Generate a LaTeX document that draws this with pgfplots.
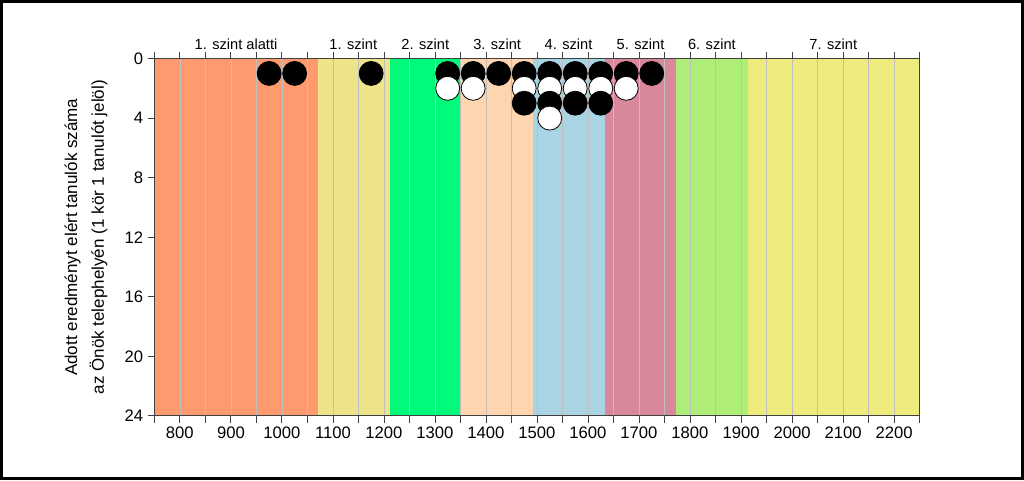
\documentclass[border=0pt]{standalone}
\usepackage{pgfplots}
\pgfplotsset{compat=1.18}
\usepackage{fontspec}
\setmainfont{Liberation Sans}

\definecolor{lvlA}{HTML}{FF9A6E}
\definecolor{lvlB}{HTML}{EDE48A}
\definecolor{lvlC}{HTML}{00FA7A}
\definecolor{lvlD}{HTML}{FFD5B0}
\definecolor{lvlE}{HTML}{A8D4E4}
\definecolor{lvlF}{HTML}{D8889A}
\definecolor{lvlG}{HTML}{AEEE78}
\definecolor{lvlH}{HTML}{EDEB7C}

\begin{document}
\begin{tikzpicture}
\begin{axis}[
    set layers,
    scale only axis,
    width=575pt, height=268.5pt,
    xmin=750, xmax=2250,
    ymin=0, ymax=24,
    y dir=reverse,
    clip=false,
    xtick={750,800,...,2250},
    xticklabels={,800,,900,,1000,,1100,,1200,,1300,,1400,,1500,,1600,,1700,,1800,,1900,,2000,,2100,,2200,},
    ytick={0,4,...,24},
    xtick pos=both, ytick pos=left,
    tick align=outside,
    major tick length=5pt,
    xmajorgrids,
    grid style={color=black!25, line width=0.5pt},
    axis line style={black!75, line width=0.6pt},
    tick style={black!75, line width=0.6pt},
    /pgf/number format/assume math mode=true,
    xticklabel style={font=\fontsize{12.5}{14}\selectfont},
    yticklabel style={font=\fontsize{12.5}{14}\selectfont},
    ylabel={Adott eredményt elért tanulók száma\\[6pt]az Önök telephelyén (1 kör 1 tanulót jelöl)},
    ylabel style={align=center, font=\fontsize{12.8}{14}\selectfont},
    ylabel shift=6pt,
]
% level bands
\addplot[on layer=axis background, draw=none, fill=lvlA] coordinates {(750,0) (1070,0) (1070,24) (750,24)} -- cycle;
\addplot[on layer=axis background, draw=none, fill=lvlB] coordinates {(1070,0) (1211,0) (1211,24) (1070,24)} -- cycle;
\addplot[on layer=axis background, draw=none, fill=lvlC] coordinates {(1211,0) (1352,0) (1352,24) (1211,24)} -- cycle;
\addplot[on layer=axis background, draw=none, fill=lvlD] coordinates {(1352,0) (1492,0) (1492,24) (1352,24)} -- cycle;
\addplot[on layer=axis background, draw=none, fill=lvlE] coordinates {(1492,0) (1633,0) (1633,24) (1492,24)} -- cycle;
\addplot[on layer=axis background, draw=none, fill=lvlF] coordinates {(1633,0) (1773,0) (1773,24) (1633,24)} -- cycle;
\addplot[on layer=axis background, draw=none, fill=lvlG] coordinates {(1773,0) (1913,0) (1913,24) (1773,24)} -- cycle;
\addplot[on layer=axis background, draw=none, fill=lvlH] coordinates {(1913,0) (2250,0) (2250,24) (1913,24)} -- cycle;

% students, one circle each, stacked by row
\addplot[only marks, mark=*, mark size=9pt, mark options={fill=black, draw=black, line width=0.6pt}]
coordinates {(975,1) (1025,1) (1175,1) (1325,1) (1375,1) (1425,1) (1475,1) (1525,1) (1575,1) (1625,1) (1675,1) (1725,1)};
\addplot[only marks, mark=*, mark size=9pt, mark options={fill=white, draw=black, line width=0.6pt}]
coordinates {(1325,2) (1375,2) (1475,2) (1525,2) (1575,2) (1625,2) (1675,2)};
\addplot[only marks, mark=*, mark size=9pt, mark options={fill=black, draw=black, line width=0.6pt}]
coordinates {(1475,3) (1525,3) (1575,3) (1625,3)};
\addplot[only marks, mark=*, mark size=9pt, mark options={fill=white, draw=black, line width=0.6pt}]
coordinates {(1525,4)};

% level names above the frame
\foreach \xx/\txt in {910/1. szint alatti, 1140/1. szint, 1281/2. szint, 1422/3. szint,
    1562/4. szint, 1703/5. szint, 1843/6. szint, 2081/7. szint}
  {\edef\tmp{\noexpand\node[anchor=base, yshift=6.5pt, font=\noexpand\fontsize{11}{13}\noexpand\selectfont] at (axis cs:\xx,0) {\txt};}\tmp}

\coordinate (bl) at (axis cs:750,24);
\coordinate (tr) at (axis cs:2250,0);
\end{axis}
\draw[line width=2.5pt] ([shift={(-114.75pt,-47.25pt)}]bl) rectangle ([shift={(77.25pt,42.75pt)}]tr);
\end{tikzpicture}
\end{document}
